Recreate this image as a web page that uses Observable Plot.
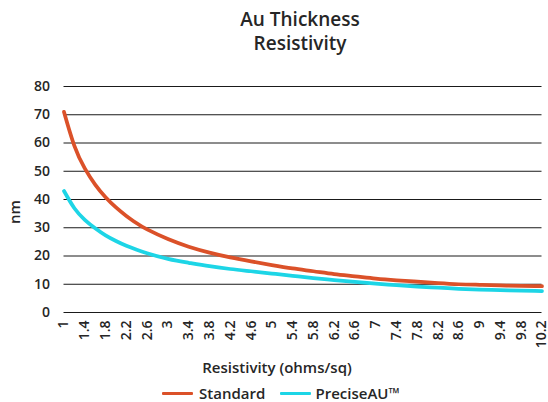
<!DOCTYPE html>
<html>
<head>
<meta charset="utf-8">
<script src="https://cdn.jsdelivr.net/npm/d3@7"></script>
<script src="https://cdn.jsdelivr.net/npm/@observablehq/plot@0.6"></script>
<style>
  body { margin: 0; background: #fff; font-family: "Open Sans", sans-serif; color: #262626; }
  #wrap { position: relative; width: 548px; height: 402px; overflow: hidden; }
  #chart { position: absolute; left: 0; top: 0; }
  .txt { position: absolute; font-weight: 600; white-space: nowrap; }
  #title { left: 300px; top: 6.5px; transform: translateX(-50%); font-size: 19px; line-height: 24px; text-align: center; }
  #ylabel { left: 14px; top: 212px; font-size: 15px; line-height: 20px; transform: translate(-50%, -50%) rotate(-90deg); }
  #xlabel { left: 277px; top: 357px; font-size: 15px; line-height: 20px; transform: translateX(-50%); }
  .leg { position: absolute; top: 383px; height: 20px; font-size: 15px; line-height: 20px; font-weight: 600; white-space: nowrap; }
  .sw { position: absolute; top: 383px; height: 20px; width: 31px; }
  .sw::after { content: ""; position: absolute; left: 0; right: 0; top: 8.5px; height: 3.5px; background: var(--c); border-radius: 1px; }
</style>
</head>
<body>
<div id="wrap">
  <div id="chart"></div>
  <div id="title" class="txt">Au Thickness<br>Resistivity</div>
  <div id="ylabel" class="txt">nm</div>
  <div id="xlabel" class="txt">Resistivity (ohms/sq)</div>
  <div id="legend"></div>
</div>
<script>
// Resistivity (ohms/sq) at which the curves were read
const resistivity = [1, 1.2, 1.4, 1.6, 1.8, 2, 2.2, 2.4, 2.6, 3, 3.4, 3.8, 4.2, 4.6, 5, 5.4, 5.8, 6.2, 6.6, 7, 7.4, 7.8, 8.2, 8.6, 9, 9.4, 9.8, 10.2];
// Au thickness (nm) — Standard
const standard = [71, 59, 51, 45.3, 40.8, 37.2, 34.2, 31.6, 29.4, 26, 23.3, 21.2, 19.5, 18.1, 16.8, 15.6, 14.6, 13.6, 12.8, 12, 11.4, 10.9, 10.4, 10, 9.8, 9.6, 9.4, 9.3];
// Au thickness (nm) — PreciseAU™
const preciseAU = [43, 36.9, 32.8, 29.8, 27.3, 25.3, 23.6, 22.2, 21, 19, 17.6, 16.4, 15.4, 14.6, 13.8, 13, 12.2, 11.5, 10.8, 10.2, 9.7, 9.2, 8.8, 8.4, 8.1, 7.9, 7.7, 7.6];
// Axis tick labels
const xTicks = [1, 1.4, 1.8, 2.2, 2.6, 3, 3.4, 3.8, 4.2, 4.6, 5, 5.4, 5.8, 6.2, 6.6, 7, 7.4, 7.8, 8.2, 8.6, 9, 9.4, 9.8, 10.2];
const yTicks = [0, 10, 20, 30, 40, 50, 60, 70, 80];
const seriesNames = ["Standard", "PreciseAU™"];
const seriesColors = ["#db5129", "#1dd5e6"];

const rows = [
  ...resistivity.map((r, i) => ({r, v: standard[i], series: seriesNames[0]})),
  ...resistivity.map((r, i) => ({r, v: preciseAU[i], series: seriesNames[1]}))
];

const chart = Plot.plot({
  width: 548,
  height: 350,
  marginTop: 86,
  marginBottom: 38,
  marginLeft: 63.5,
  marginRight: 6.5,
  style: {fontFamily: '"Open Sans", sans-serif', fontSize: "14px", fontWeight: 600, color: "#262626", background: "transparent", overflow: "visible"},
  x: {domain: [1, 10.2], label: null},
  y: {domain: [0, 80], label: null},
  color: {domain: seriesNames, range: seriesColors},
  marks: [
    Plot.ruleY(yTicks, {stroke: "#1a1a1a", strokeWidth: 1}),
    Plot.axisY({ticks: yTicks, tickSize: 0, tickPadding: 14, label: null}),
    Plot.axisX({ticks: xTicks, tickSize: 0, tickPadding: 8, tickRotate: -90, tickFormat: d => String(d), label: null}),
    Plot.line(rows, {x: "r", y: "v", stroke: "series", z: "series", strokeWidth: 3.75, curve: "natural"})
  ]
});
document.getElementById("chart").appendChild(chart);

// Legend
const legendPos = [{sw: 162, tx: 199}, {sw: 280, tx: 315.5}];
const legend = document.getElementById("legend");
seriesNames.forEach((name, i) => {
  const sw = document.createElement("div");
  sw.className = "sw";
  sw.style.left = legendPos[i].sw + "px";
  sw.style.setProperty("--c", seriesColors[i]);
  legend.appendChild(sw);
  const t = document.createElement("div");
  t.className = "leg";
  t.style.left = legendPos[i].tx + "px";
  t.textContent = name;
  legend.appendChild(t);
});
</script>
</body>
</html>
